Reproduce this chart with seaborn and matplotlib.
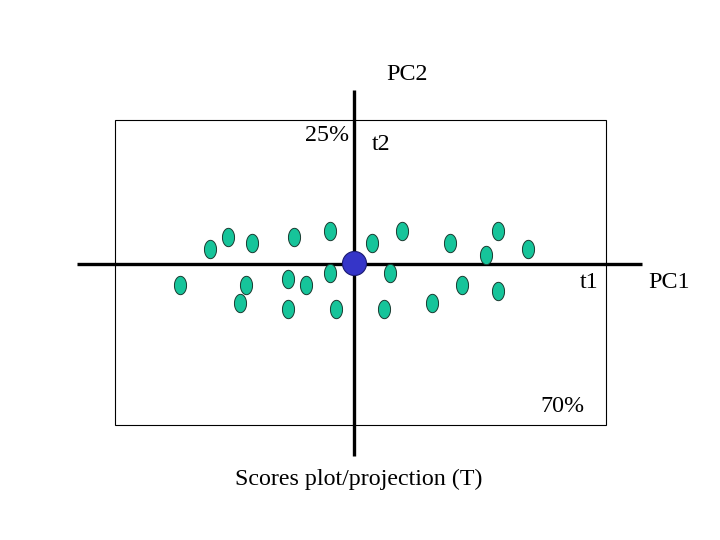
import numpy as np
import pandas as pd
import matplotlib.pyplot as plt
from matplotlib.path import Path
from matplotlib.patches import Rectangle
import seaborn as sns

# scores (t1 along PC1, t2 along PC2)
t1 = [-144, -126, -102, -60, -24, 18, 48, 96, 144, 132, 174,
      -174, -108, -114, -66, -48, -66, -24, -18, 36, 30, 78, 108, 144]
t2 = [15, 27, 21, 27, 33, 21, 33, 21, 33, 9, 15,
      -21, -21, -39, -15, -21, -45, -9, -45, -9, -45, -39, -21, -27]
centre_t1 = [0]
centre_t2 = [1]

pc1_var = "70%"
pc2_var = "25%"

sns.set_style("white")
plt.rcParams['font.family'] = ['Liberation Serif', 'DejaVu Serif']
plt.rcParams['text.color'] = 'black'

fig = plt.figure(figsize=(7.2, 5.4), dpi=100)
ax = fig.add_axes([0, 0, 1, 1])
ax.set_xlim(-354, 366)
ax.set_ylim(-276, 264)
ax.axis('off')

# frame and axes lines
ax.add_patch(Rectangle((-239, -161), 491, 305, fill=False, lw=0.8, ec='black'))
ax.plot([-277, 288], [0, 0], color='black', lw=2.4, solid_capstyle='butt')
ax.plot([0, 0], [-192, 174], color='black', lw=2.4, solid_capstyle='butt')

# ellipse marker
th = np.linspace(0, 2 * np.pi, 40)
ell = Path(np.column_stack([0.66 * np.cos(th), np.sin(th)]))

df = pd.DataFrame({"t1": t1, "t2": t2})
sns.scatterplot(data=df, x="t1", y="t2", ax=ax, marker=ell, s=175,
                color="#16C49A", edgecolor="#1a3a30", linewidth=0.7, zorder=3)
sns.scatterplot(x=centre_t1, y=centre_t2, ax=ax, s=300, color="#3535C8",
                edgecolor="#1a1a70", linewidth=0.8, zorder=4)

fs = 17.3
ax.text(32, 189, "PC2", fontsize=fs, ha='left', va='center')
ax.text(-5, 128, pc2_var, fontsize=fs, ha='right', va='center')
ax.text(18, 119, "t2", fontsize=fs, ha='left', va='center')
ax.text(244, -19, "t1", fontsize=fs, ha='right', va='center')
ax.text(294, -19, "PC1", fontsize=fs, ha='left', va='center')
ax.text(186, -143, pc1_var, fontsize=fs, ha='left', va='center')
ax.text(5, -215, "Scores plot/projection (T)", fontsize=fs, ha='center', va='center')

fig.savefig("out.png", dpi=100)
